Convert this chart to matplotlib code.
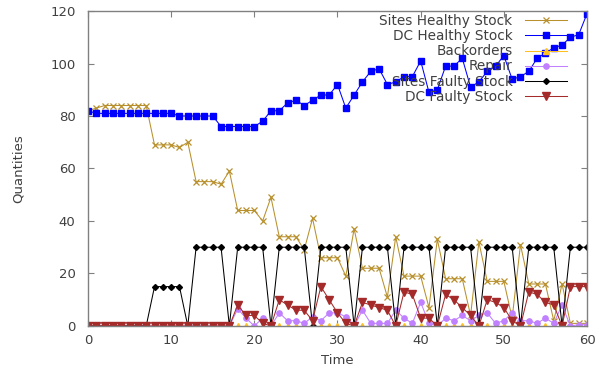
import matplotlib
matplotlib.use("Agg")
import matplotlib.pyplot as plt

# time steps
time = list(range(61))

sites_healthy = [82, 83, 84, 84, 84, 84, 84, 84, 69, 69, 69, 68, 70, 55, 55, 55, 54, 59, 44, 44,
                 44, 40, 49, 34, 34, 34, 29, 41, 26, 26, 26, 19, 37, 22, 22, 22, 11, 34, 19, 19,
                 19, 7, 33, 18, 18, 18, 4, 32, 17, 17, 17, 3, 31, 16, 16, 16, 2, 16, 1, 1, 1]
dc_healthy = [82, 81, 81, 81, 81, 81, 81, 81, 81, 81, 81, 80, 80, 80, 80, 80, 76, 76, 76, 76,
              76, 78, 82, 82, 85, 86, 84, 86, 88, 88, 92, 83, 88, 93, 97, 98, 92, 93, 95, 95,
              101, 89, 90, 99, 99, 102, 91, 93, 97, 99, 103, 94, 95, 97, 102, 104, 106, 107, 110, 111, 119]
backorders = [0] * 61
repair = [0, 0, 0, 0, 0, 0, 0, 0, 0, 0, 0, 0, 0, 0, 0, 0, 0, 0, 6.5, 3,
          0, 3, 0, 5, 2, 2, 1, 3.5, 2, 5, 5, 3.5, 0, 6, 1, 1, 1, 6, 3, 1,
          9, 1, 0, 3, 2, 4, 2, 4, 5, 1, 2, 5, 2, 2, 1, 3, 1, 8, 0, 0.5, 0.5]
sites_faulty = [0, 0, 0, 0, 0, 0, 0, 0, 15, 15, 15, 15, 0, 30, 30, 30, 30, 0, 30, 30,
                30, 30, 0, 30, 30, 30, 30, 0, 30, 30, 30, 30, 0, 30, 30, 30, 30, 0, 30, 30,
                30, 30, 0, 30, 30, 30, 30, 0, 30, 30, 30, 30, 0, 30, 30, 30, 30, 0, 30, 30, 30]
dc_faulty = [0, 0, 0, 0, 0, 0, 0, 0, 0, 0, 0, 0, 0, 0, 0, 0, 0, 0, 8, 4,
             4, 1, 0, 10, 8, 6, 6, 2, 15, 10, 5, 1, 0, 9, 8, 7, 6, 0, 13, 12,
             3, 3, 0, 12, 10, 7, 4, 0, 10, 9, 7, 2, 0, 13, 12, 9, 8, 0, 15, 15, 15]

x_ticks = [0, 10, 20, 30, 40, 50, 60]
y_ticks = [0, 20, 40, 60, 80, 100, 120]

text_col = "#404040"
frame_col = "#808080"

fig = plt.figure(figsize=(6.03, 3.72), dpi=100)
ax = fig.add_axes([0.1459, 0.1237, 0.8276, 0.8467])

ax.plot(time, sites_healthy, color="#b8902c", lw=0.75, marker="x", ms=5, mew=0.9,
        label="Sites Healthy Stock")
ax.plot(time, dc_healthy, color="#0000ff", lw=0.75, marker="s", ms=4.8,
        label="DC Healthy Stock")
ax.plot(time, backorders, color="#ffc020", lw=0.75, marker="^", ms=4.2,
        label="Backorders")
ax.plot(time, repair, color="#c080ff", lw=0.75, marker="o", ms=3.8,
        label="Repair")
ax.plot(time, sites_faulty, color="black", lw=0.75, marker="D", ms=3,
        label="Sites Faulty Stock")
ax.plot(time, dc_faulty, color="#a52a2a", lw=0.75, marker="v", ms=5.2,
        label="DC Faulty Stock")

ax.set_xlim(0, 60)
ax.set_ylim(0, 120)
ax.set_xticks(x_ticks)
ax.set_yticks(y_ticks)

for s in ax.spines.values():
    s.set_color(frame_col)
    s.set_linewidth(1.0)
ax.tick_params(direction="in", length=4, width=0.8, color=frame_col,
               top=True, right=True, labelcolor=text_col, labelsize=9.5)
ax.tick_params(axis="x", pad=6)
ax.tick_params(axis="y", pad=9)

ax.set_xlabel("Time", fontsize=9.5, color=text_col, labelpad=5)
ax.set_ylabel("Quantities", fontsize=9.5, color=text_col, labelpad=18)

leg = ax.legend(loc="upper right", bbox_to_anchor=(0.96, 0.99), frameon=False,
                markerfirst=False, fontsize=9.8, borderpad=0, borderaxespad=0,
                handlelength=3.1, handletextpad=0.9, labelspacing=0.08,
                numpoints=1)
for t in leg.get_texts():
    t.set_color(text_col)

fig.savefig("out.png", dpi=100)
